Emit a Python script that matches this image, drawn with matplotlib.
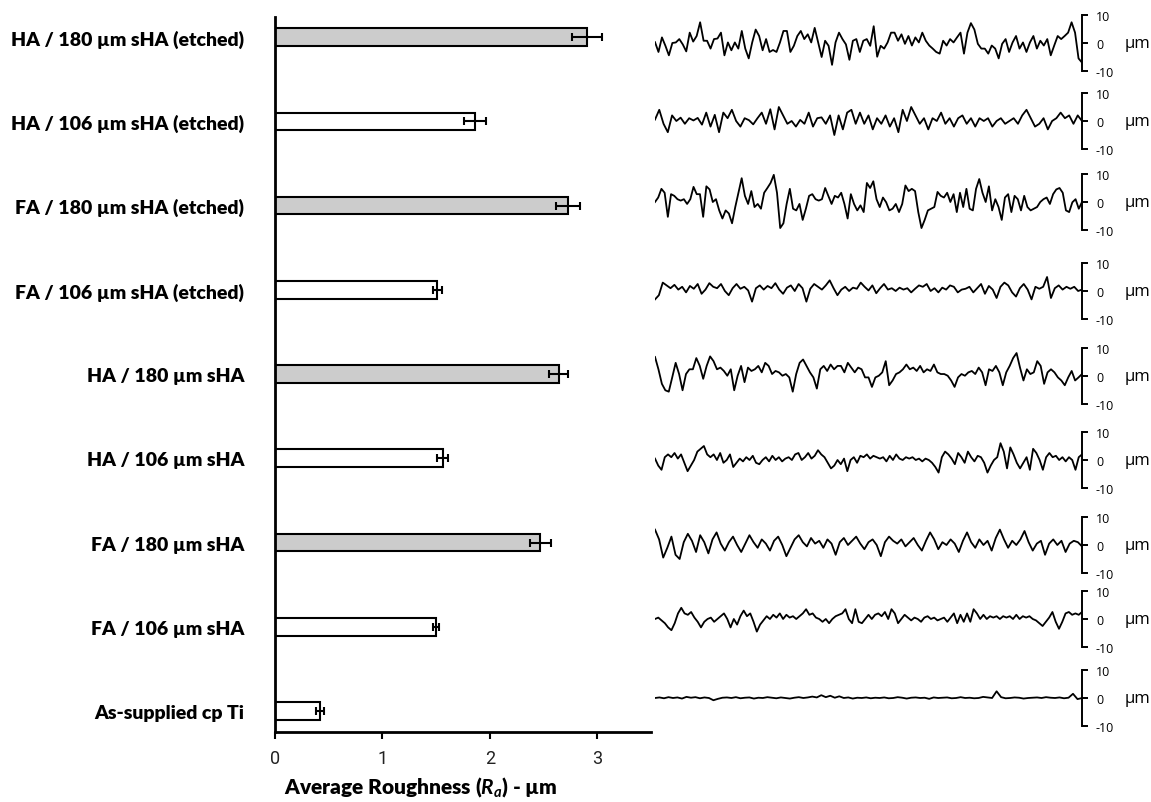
import matplotlib
matplotlib.use('Agg')
import matplotlib.pyplot as plt
import numpy as np

plt.rcParams['mathtext.fontset'] = 'custom'
plt.rcParams['mathtext.it'] = 'Lato:italic:bold'
plt.rcParams['mathtext.rm'] = 'Lato:bold'

# ---- data ----
labels = ['HA / 180 µm sHA (etched)', 'HA / 106 µm sHA (etched)',
          'FA / 180 µm sHA (etched)', 'FA / 106 µm sHA (etched)',
          'HA / 180 µm sHA', 'HA / 106 µm sHA',
          'FA / 180 µm sHA', 'FA / 106 µm sHA', 'As-supplied cp Ti']
ra_mean = [2.90, 1.86, 2.73, 1.51, 2.64, 1.56, 2.47, 1.50, 0.42]
ra_err = [0.14, 0.10, 0.11, 0.04, 0.09, 0.05, 0.10, 0.03, 0.04]
fills = ['#cccccc', 'white', '#cccccc', 'white', '#cccccc',
         'white', '#cccccc', 'white', 'white']

# surface profiles (µm), evenly spaced
prof_ha180e = [0.3, -3.2, 2.0, -1.0, -4.4, 0.0, 0.2, 1.4, -0.5, -3.0, 3.7, 0.5, 2.5, 7.4, 0.8, 0.8,
               -2.0, 1.4, 1.6, 3.7, -4.4, 0.2, -2.6, 0.2, -2.0, 4.3, -2.0, -5.5, 0.2, 4.8, 2.5, -2.6,
               1.4, -3.2, -2.5, -3.2, 0.2, 4.3, 4.3, -3.2, -1.0, 2.5, 4.3, 1.4, 3.1, 0.2, 5.4, 0.2,
               -5.0, 0.8, -1.0, -7.8, 0.2, 3.7, 1.4, -0.5, -6.0, 0.8, 1.4, -3.2, 0.8, 1.4, -1.0, 6.0,
               -4.9, -1.0, -2.0, 0.2, 3.7, 3.7, 0.8, 3.1, -0.3, 2.5, -0.9, 2.0, 0.2, 3.7, 0.8, -0.9,
               -2.0, -3.2, -3.8, 0.8, -0.9, 1.4, 0.2, 2.0, 3.7, -3.8, 3.7, 7.1, 4.8, -0.3, -2.0, -2.0,
               -3.8, -0.9, -2.0, -5.5, -0.3, 1.4, -3.2, 0.2, 2.5, -2.0, 0.2, -3.2, 0.2, 2.5, -2.0, 0.8,
               -0.9, 1.4, -4.4, -0.9, 2.5, 1.4, 2.5, 3.7, 7.4, 3.7, -5.5, -7.0]
prof_ha106e = [0.5, 4.0, -1.0, -4.0, 2.0, 0.0, 1.2, -1.0, 1.0, 0.2, 1.1, -1.3, 3.0, -2.0, 2.2, -4.0,
               3.0, 1.0, 4.0, 0.0, -2.0, 1.0, 0.3, -1.2, 1.0, 3.0, -1.0, 4.2, -3.0, 5.0, 2.0, -1.0,
               0.0, -2.0, 0.4, -1.0, 3.0, -2.0, 1.0, 1.3, -1.0, 2.0, -5.0, 2.0, -3.0, 3.0, 4.0, -1.0,
               3.0, -1.0, 2.0, -3.0, 1.0, -1.0, 2.0, -2.0, 1.0, -4.0, 4.0, 0.0, 5.0, 2.0, -1.0, 1.0,
               -3.0, 1.0, 0.0, 3.0, -1.0, 1.0, -2.0, 1.0, 2.0, -1.0, 1.0, -2.0, 1.0, 0.0, 1.0, -2.0,
               0.0, 1.0, -1.0, 0.0, 1.0, -1.0, 2.0, 4.0, 1.0, -2.0, -1.0, 1.0, -3.0, 0.0, 1.0, 3.0,
               1.0, 2.0, -1.0, 2.0, 0.0]
prof_fa180e = [0.0, 1.6, 4.7, 3.3, -5.3, 2.8, 2.2, 1.0, 0.5, 1.0, -0.7, 1.0, 5.4, 2.8, 2.8, -5.3,
               5.6, 4.5, 0.0, 1.0, -3.0, -5.9, -3.0, -4.1, -7.6, -1.8, 3.3, 8.5, 2.2, -0.7, 3.9, -1.8,
               -0.7, -2.4, 3.3, 5.0, 6.8, 9.7, 3.3, -9.3, -7.6, -0.7, 4.7, -2.4, -3.0, -0.7, -6.4, -2.4,
               2.2, 2.8, 1.0, 0.5, 1.0, 5.0, 2.2, -0.7, 2.2, 1.6, 3.3, -0.7, -5.9, 2.8, -0.7, -3.0,
               -1.2, -3.6, 6.8, 5.0, 7.4, 1.0, -1.8, 1.6, -0.1, -3.0, -2.4, -0.7, -3.6, -0.7, 5.9, 3.9,
               4.7, 3.9, -3.6, -9.3, -6.4, -3.0, -2.4, -1.8, 3.6, 2.2, 1.6, 3.3, 0.0, 2.8, -3.6, 3.3,
               -1.8, 4.7, -2.4, -3.0, 4.7, 8.2, 3.3, 0.0, 5.6, -3.0, 1.0, -1.8, -6.4, 1.6, 2.8, -3.6,
               2.2, 1.0, -3.0, 2.2, -1.8, -3.0, -2.4, -1.8, 0.0, 1.0, 1.6, -0.7, 2.8, 4.5, 5.0, 3.3,
               -3.0, -3.6, -0.1, 1.0, -2.4, 0.0]
prof_fa106e = [-3.0, -1.5, 3.0, 2.0, 1.0, 2.2, 0.5, 1.5, -0.5, 1.8, 0.8, 2.5, -1.0, 0.5, 2.8, 1.5,
               1.0, 2.5, 0.0, -1.5, 1.0, 2.5, 0.8, 1.5, 0.2, -3.8, 1.0, 2.0, 0.5, 1.8, 1.0, 2.8,
               0.5, -1.0, 1.2, 2.0, 0.0, 2.5, 1.0, -3.8, 0.8, 2.5, 1.5, 0.5, 2.0, 3.8, 1.0, -1.5,
               0.5, 1.5, 0.0, 1.2, 0.8, 3.0, 1.5, 0.2, 2.0, -0.8, 1.0, 2.5, 0.5, 1.0, 0.0, 1.2,
               0.5, 1.0, -0.5, 0.8, 2.0, 1.5, 2.5, 0.0, 1.0, -0.5, 1.2, 0.5, 2.0, 1.5, -0.5, 0.5,
               0.8, 1.5, -0.5, 1.0, 2.5, -1.0, 1.8, 0.5, -2.5, 1.5, 3.0, 2.0, -0.5, -2.0, 1.0, 2.5,
               0.5, -3.0, 1.5, 0.8, 1.5, 5.0, -2.5, 1.0, 2.0, 0.5, 1.5, 0.8, 1.5, 0.0, 0.5]
prof_ha180 = [6.8, 2.4, -2.8, -5.1, -5.6, -0.5, 4.7, 0.7, -5.1, 0.7, 2.4, 2.4, 6.4, 3.6, -1.0, 3.6,
              7.0, 5.3, 2.4, 3.0, 1.8, 0.1, 2.4, -5.1, 0.1, 3.6, -2.2, 3.0, 1.8, 2.4, 3.6, 1.3,
              4.7, 3.6, 0.7, 1.8, 1.3, 0.1, 0.7, -0.5, -5.6, 0.7, 4.7, 5.9, 3.6, 1.3, -0.5, -4.5,
              2.4, 3.6, 1.8, 4.1, 2.4, 3.6, 3.6, 1.3, 4.7, 3.0, 1.3, 3.0, 2.4, -0.5, -0.5, -3.9,
              -0.5, 0.1, 1.3, 5.3, -3.3, -1.6, 0.7, 1.3, 2.4, 4.1, 2.4, 3.0, 1.8, 3.6, 1.3, 2.4,
              1.8, 4.1, 1.3, 0.7, 0.7, 0.1, -1.6, -3.9, -0.5, 0.7, 0.1, 1.3, 1.8, 0.7, 3.0, 1.3,
              -3.3, 2.4, 1.8, 3.6, 1.3, -3.3, 1.3, 3.6, 6.4, 8.2, 3.0, -1.6, 2.4, 0.7, 1.3, 5.3,
              3.6, -2.8, 1.3, 2.4, 1.3, -0.5, -1.6, -3.3, -0.5, 1.8, -1.6, -0.5, 0.7]
prof_ha106 = [0.5, -2.0, -3.5, 1.0, 2.0, 1.0, 2.5, 0.5, 2.0, -1.0, -4.0, -2.0, 0.0, 3.0, 4.0, 5.0,
              2.0, 1.0, 2.0, 0.0, 2.5, -1.0, 0.0, 2.0, -2.5, -1.0, 0.5, -0.5, 1.0, 0.0, 1.5, -1.0,
              -1.5, 0.0, 1.0, -0.5, 1.5, 0.0, 1.0, -0.5, 0.5, 1.0, 0.0, 2.0, 2.5, 0.0, 1.0, 2.5,
              0.5, 1.5, 3.5, 2.0, 1.0, -1.0, -3.0, -2.0, 0.0, -1.5, 0.5, -4.0, 0.0, 1.0, -1.0, 1.5,
              1.0, 2.0, 0.5, 1.5, 1.0, 0.5, 1.0, -0.5, 1.5, 0.0, 2.0, 0.5, 0.0, 1.0, 0.5, 1.0,
              0.0, 0.5, -0.5, 0.5, 0.0, -1.0, -2.5, -4.5, 1.0, 3.0, 2.0, 0.5, -1.5, 2.5, 1.0, -1.0,
              3.0, 1.0, -0.5, 1.5, 1.0, -1.0, -4.5, -2.0, 0.0, 1.0, 6.0, 3.0, -3.0, 4.5, 2.0, -1.0,
              -3.0, -1.0, 1.0, -3.5, 4.0, 2.5, 0.0, -3.5, 1.0, 2.5, 1.0, 1.5, 0.0, 1.0, -0.5, 1.0,
              0.0, -3.5, 1.0, 2.0]
prof_fa180 = [5.5, 2.0, -4.5, -1.0, 3.0, -3.5, -5.0, 1.0, 4.0, 1.5, -2.5, 3.5, 1.0, -3.0, 2.0, 4.5,
              0.5, -2.0, 1.0, 3.0, 0.0, -2.5, 0.5, 3.5, 1.0, -1.0, 2.0, 0.5, -2.0, 1.5, 3.0, 0.0,
              -4.0, -1.0, 2.0, 3.5, 1.0, -0.5, 2.5, 0.5, 1.5, -1.0, 2.0, 0.5, -3.5, 1.0, 2.5, 0.0,
              1.5, 3.0, 0.5, -1.5, 1.0, 2.0, 0.0, -4.0, 1.0, 3.0, 1.5, 0.5, 2.0, -0.5, 1.0, 2.5,
              0.0, -2.0, 1.5, 4.5, 2.0, -1.5, 1.0, 0.0, 2.0, 0.5, -2.5, 1.5, 4.5, 1.0, -1.0, 2.0,
              0.0, 1.5, -2.0, 2.5, 5.5, 2.0, -1.0, 1.5, 0.0, 2.0, 5.0, 1.0, -2.0, 0.5, 1.5, -3.5,
              0.5, 2.0, 0.0, 1.5, -2.5, 0.5, 1.5, 1.0, -0.5]
prof_fa106 = [0.0, 0.5, -0.5, -1.5, -3.0, -4.0, -1.5, 2.0, 4.0, 2.0, 1.5, 2.5, 0.5, -1.0, -3.0, -1.0,
              0.0, 0.5, -1.0, 0.0, 1.0, 2.0, 0.0, -3.0, 0.0, -2.0, 1.0, 3.0, 1.0, 2.0, -1.0, -4.5,
              -2.0, -0.5, 1.0, 0.0, 1.5, 0.5, 2.0, 0.0, 1.5, 0.5, 1.0, 0.0, 1.0, 2.0, 3.5, 1.5,
              2.0, 0.5, 0.0, -1.0, 0.0, -1.5, 0.0, 1.0, 1.5, 2.0, 3.5, 0.0, -1.5, 3.5, -1.0, -1.5,
              0.0, 1.5, 0.0, 1.5, 2.0, 1.0, 2.5, 0.0, 3.5, 2.0, -1.5, 0.0, 1.5, 0.5, -0.5, 0.5,
              0.0, -1.0, 0.5, 1.0, 0.0, 0.5, -0.5, 0.0, 0.5, -1.0, 0.5, 2.0, -1.5, 1.5, -1.0, 2.0,
              -1.0, 3.5, 2.0, 0.0, 1.5, 0.0, 1.0, 0.5, 1.0, 0.0, 1.0, 0.5, 1.0, 0.0, 1.5, 0.0,
              1.0, 0.5, 1.0, 0.0, -0.5, -1.5, -2.5, -1.0, 0.5, 2.5, -1.0, -3.5, -1.0, 2.0, 2.5, 1.5,
              2.0, 1.5, 2.5]
prof_ti = [0.0, 0.2, -0.1, 0.3, 0.0, 0.2, -0.2, 0.4, 0.1, 0.3, -0.1, 0.2, 0.0, -0.8, -0.3, 0.1,
           0.2, 0.0, 0.3, -0.1, 0.1, 0.2, -0.2, 0.1, 0.0, 0.3, 0.1, -0.1, 0.2, 0.0, -0.2, 0.1,
           0.3, 0.0, 0.2, 0.5, 0.2, 1.0, 0.3, 0.8, 0.1, 0.6, 0.0, 0.2, -0.2, 0.1, 0.0, 0.2,
           -0.1, 0.1, 0.0, 0.2, -0.1, 0.0, 0.3, 0.1, -0.2, 0.1, 0.2, 0.0, 0.1, -0.3, 0.2, 0.0,
           0.1, 0.2, -0.1, 0.0, 0.3, 0.0, 0.1, -0.1, 0.0, 0.4, 0.2, 0.0, 2.4, 0.3, -0.1, 0.0,
           0.2, 0.1, -0.2, 0.0, 0.1, 0.2, 0.0, 0.3, 0.1, 0.0, 0.2, -0.1, 0.1, 1.5, -0.4, 0.0]
profiles = [prof_ha180e, prof_ha106e, prof_fa180e, prof_fa106e,
            prof_ha180, prof_ha106, prof_fa180, prof_fa106, prof_ti]

# pixel centre (from top) of each profile's zero line
W, H = 1151, 803
zero_px = [44, 122, 203, 292, 377, 461, 546, 620, 699]

fig = plt.figure(figsize=(W / 100, H / 100), dpi=100)

#######################
# Bar chart (left)    #
#######################
ax = fig.add_axes([275 / W, 1 - 733 / H, 376 / W, 715 / H])
ypos = np.arange(len(labels))[::-1]
ax.barh(ypos, ra_mean, height=0.21, color=fills, edgecolor='black', linewidth=1.5, zorder=2)
ax.errorbar(ra_mean, ypos, xerr=ra_err, fmt='none', ecolor='black',
            elinewidth=1.5, capsize=3, capthick=1.5, zorder=3)
ax.set_xlim(0, 3.5)
ax.set_ylim(-0.25, 8.24)
ax.set_yticks(ypos)
ax.set_yticklabels(labels, fontfamily='Lato', fontweight='heavy', fontsize=14)
ax.tick_params(axis='y', length=0, pad=22)
ax.set_xticks([0, 1, 2, 3])
ax.set_xticklabels(['0', '1', '2', '3'], fontfamily='Roboto', fontsize=13, color='#222222')
ax.tick_params(axis='x', length=5, width=1.5, direction='out', pad=7)
for s in ['top', 'right']:
    ax.spines[s].set_visible(False)
for s in ['left', 'bottom']:
    ax.spines[s].set_linewidth(2)

fig.text(421 / W, 1 - 787 / H, r'Average Roughness ($R_a$) - µm', fontfamily='Lato',
         fontweight='heavy', fontsize=15, ha='center', va='center')

#######################
# Profiles (right)    #
#######################
for prof, zp in zip(profiles, zero_px):
    pax = fig.add_axes([655 / W, 1 - (zp + 28) / H, 427 / W, 56 / H])
    pax.plot(np.linspace(0, 1, len(prof)), prof, color='black', linewidth=1.3,
             solid_joinstyle='round')
    pax.set_xlim(0, 1)
    pax.set_ylim(-10, 10)
    pax.patch.set_visible(False)
    for s in ['top', 'left', 'bottom']:
        pax.spines[s].set_visible(False)
    pax.spines['right'].set_linewidth(1.4)
    pax.set_xticks([])
    pax.yaxis.tick_right()
    pax.set_yticks([-10, 0, 10])
    pax.set_yticklabels(['-10', '0', '10'], fontfamily='Open Sans', fontsize=9)
    pax.tick_params(axis='y', length=4, width=1.4, pad=6)
    pax.text(1.13, 0.5, 'µm', transform=pax.transAxes, fontfamily='Open Sans',
             fontsize=12, ha='center', va='center')

plt.savefig('out.png', dpi=100)
